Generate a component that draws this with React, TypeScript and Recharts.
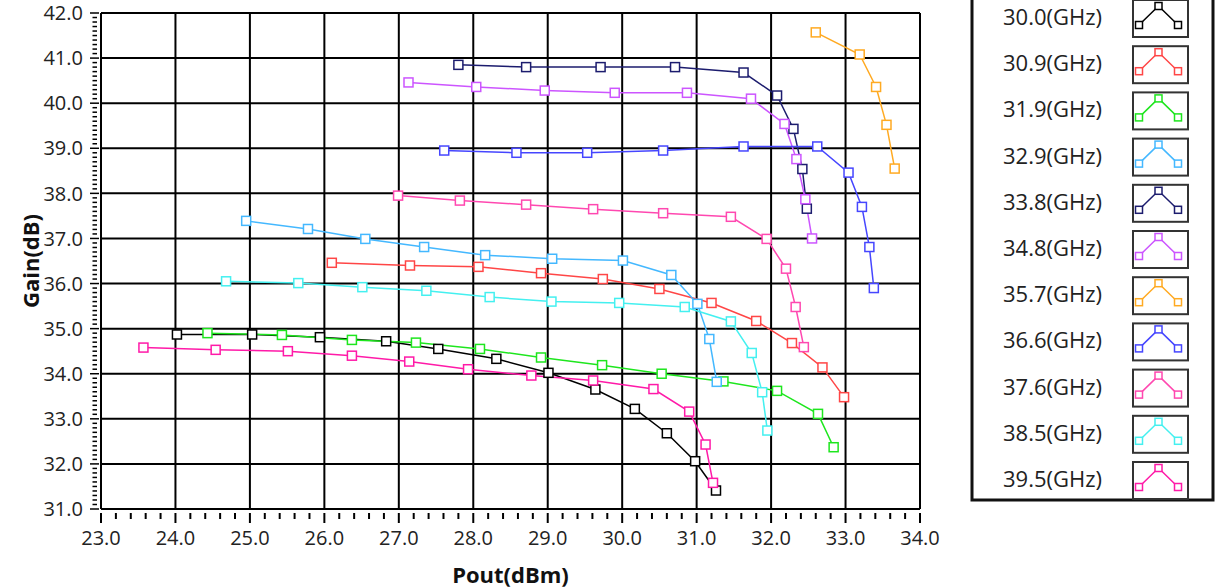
import {Line, LineChart, ReferenceLine, XAxis, YAxis} from 'recharts';

// Pout (dBm) / Gain (dB), one pair per frequency
const pout300 = [24.02, 25.03, 25.94, 26.83, 27.53, 28.31, 29.01, 29.64, 30.17, 30.6, 30.98, 31.26];
const gain300 = [34.87, 34.87, 34.81, 34.72, 34.55, 34.33, 34.02, 33.65, 33.22, 32.68, 32.06, 31.41];

const pout309 = [26.1, 27.15, 28.07, 28.91, 29.74, 30.5, 31.2, 31.8, 32.28, 32.69, 32.98];
const gain309 = [36.46, 36.4, 36.37, 36.23, 36.1, 35.88, 35.57, 35.17, 34.68, 34.14, 33.48];

const pout319 = [24.43, 25.43, 26.37, 27.23, 28.09, 28.91, 29.73, 30.53, 31.36, 32.08, 32.63, 32.84];
const gain319 = [34.9, 34.86, 34.75, 34.69, 34.55, 34.36, 34.19, 34.0, 33.83, 33.62, 33.11, 32.37];

const pout329 = [24.95, 25.78, 26.55, 27.34, 28.16, 29.06, 30.01, 30.66, 31.01, 31.17, 31.27];
const gain329 = [37.39, 37.21, 36.99, 36.81, 36.63, 36.55, 36.51, 36.19, 35.55, 34.77, 33.82];

const pout338 = [27.8, 28.71, 29.71, 30.71, 31.63, 32.08, 32.3, 32.42, 32.48];
const gain338 = [40.85, 40.8, 40.8, 40.8, 40.68, 40.17, 39.43, 38.54, 37.66];

const pout348 = [27.13, 28.04, 28.96, 29.9, 30.87, 31.73, 32.18, 32.34, 32.46, 32.55];
const gain348 = [40.46, 40.36, 40.28, 40.23, 40.23, 40.1, 39.54, 38.76, 37.87, 37.0];

const pout357 = [32.6, 33.19, 33.41, 33.55, 33.66];
const gain357 = [41.57, 41.08, 40.36, 39.52, 38.55];

const pout366 = [27.61, 28.58, 29.53, 30.55, 31.63, 32.62, 33.04, 33.22, 33.32, 33.38];
const gain366 = [38.95, 38.9, 38.9, 38.95, 39.04, 39.04, 38.46, 37.7, 36.81, 35.9];

const pout376 = [26.99, 27.82, 28.71, 29.61, 30.55, 31.46, 31.94, 32.2, 32.33, 32.44];
const gain376 = [37.95, 37.84, 37.75, 37.65, 37.56, 37.48, 36.99, 36.33, 35.48, 34.59];

const pout385 = [24.68, 25.65, 26.51, 27.37, 28.22, 29.05, 29.96, 30.84, 31.46, 31.74, 31.88, 31.95];
const gain385 = [36.05, 36.01, 35.92, 35.84, 35.7, 35.6, 35.57, 35.48, 35.16, 34.46, 33.59, 32.74];

const pout395 = [23.57, 24.54, 25.51, 26.37, 27.14, 27.93, 28.78, 29.61, 30.42, 30.9, 31.12, 31.22];
const gain395 = [34.58, 34.53, 34.5, 34.4, 34.27, 34.1, 33.96, 33.85, 33.66, 33.16, 32.43, 31.58];

const freqLabels = ['30.0(GHz)', '30.9(GHz)', '31.9(GHz)', '32.9(GHz)', '33.8(GHz)', '34.8(GHz)',
  '35.7(GHz)', '36.6(GHz)', '37.6(GHz)', '38.5(GHz)', '39.5(GHz)'];

const xMajor = [23, 24, 25, 26, 27, 28, 29, 30, 31, 32, 33, 34];
const yMajor = [31, 32, 33, 34, 35, 36, 37, 38, 39, 40, 41, 42];

const COLORS = ['#000000', '#ff4646', '#1ee61e', '#44b8ff', '#1c1c6e', '#cc55ff',
  '#ffaa22', '#4646ff', '#ff48b0', '#44f0f0', '#ff1aa8'];

const pairs = (xs: number[], ys: number[]) => xs.map((x, i) => ({x, y: ys[i]}));

const series = [
  pairs(pout300, gain300), pairs(pout309, gain309), pairs(pout319, gain319),
  pairs(pout329, gain329), pairs(pout338, gain338), pairs(pout348, gain348),
  pairs(pout357, gain357), pairs(pout366, gain366), pairs(pout376, gain376),
  pairs(pout385, gain385), pairs(pout395, gain395),
];

// minor ticks: 0.2 dBm on x, 0.1 dB on y
const xTicks: number[] = [];
for (let i = 0; i <= (xMajor[xMajor.length - 1] - xMajor[0]) * 5; i++) xTicks.push(Math.round((xMajor[0] + i * 0.2) * 10) / 10);
const yTicks: number[] = [];
for (let i = 0; i <= (yMajor[yMajor.length - 1] - yMajor[0]) * 10; i++) yTicks.push(Math.round((yMajor[0] + i * 0.1) * 10) / 10);

const FONT = "'Segoe UI', 'Open Sans', sans-serif";
const isMajor = (v: number) => Math.abs(v - Math.round(v)) < 1e-6;

const XTick = (props: any) => {
  const {x, y, payload} = props;
  const major = isMajor(payload.value);
  return (
    <g>
      <line x1={x} x2={x} y1={y + 4} y2={y + (major ? 14 : 10)} stroke="#000" strokeWidth={2} />
      {major && (
        <text x={x} y={y + 36} textAnchor="middle" fontSize={20} fill="#222" fontFamily={FONT}>
          {payload.value.toFixed(1)}
        </text>
      )}
    </g>
  );
};

const YTick = (props: any) => {
  const {x, y, payload} = props;
  const major = isMajor(payload.value);
  return (
    <g>
      <line x1={x - (major ? 11 : 8.5)} x2={x - (major ? 2 : 4)} y1={y} y2={y} stroke="#000" strokeWidth={1.5} />
      {major && (
        <text x={x - 18} y={y} dy="0.36em" textAnchor="end" fontSize={20} fill="#222" fontFamily={FONT}>
          {payload.value.toFixed(1)}
        </text>
      )}
    </g>
  );
};

const YLabel = (props: any) => {
  const {x, y, height} = props.viewBox;
  const cx = x + 30;
  const cy = y + height / 2;
  return (
    <text x={cx} y={cy} transform={`rotate(-90 ${cx} ${cy})`} textAnchor="middle" dominantBaseline="central"
      fontSize={22} fontWeight="bold" fill="#111" fontFamily={FONT}>
      Gain(dB)
    </text>
  );
};

const XLabel = (props: any) => {
  const {x, y, width} = props.viewBox;
  return (
    <text x={x + width / 2} y={y + 74} textAnchor="middle" fontSize={22} fontWeight="bold" fill="#111" fontFamily={FONT}>
      Pout(dBm)
    </text>
  );
};

const squareDot = (color: string, size: number) => (props: any) => {
  const {cx, cy, index} = props;
  if (cx == null || cy == null) return <g key={index} />;
  return (
    <rect key={index} x={cx - size / 2} y={cy - size / 2} width={size} height={size}
      fill="#fff" stroke={color} strokeWidth={1.5} />
  );
};

function SweepLegend() {
  const rowH = 46.2;
  return (
    <svg width={1215} height={588} style={{position: 'absolute', left: 0, top: 0, pointerEvents: 'none'}}>
      <rect x={972} y={-4} width={241} height={504} fill="#fff" stroke="#111" strokeWidth={3} />
      {freqLabels.map((label, i) => {
        const top = i * rowH;
        const bx = 1133;
        return (
          <g key={label}>
            <text x={1003} y={top + 17} dy="0.36em" fontSize={22} fill="#222" fontFamily={FONT}>{label}</text>
            <rect x={bx} y={top} width={55} height={37} fill="#fff" stroke="#333" strokeWidth={2} />
            <polyline points={`${bx + 6},${top + 25} ${bx + 25.5},${top + 6} ${bx + 45},${top + 25}`}
              fill="none" stroke={COLORS[i]} strokeWidth={1.5} />
            {[[6, 25], [25.5, 6], [45, 25]].map(([dx, dy], k) => (
              <rect key={k} x={bx + dx - 3.5} y={top + dy - 3.5} width={7} height={7}
                fill="#fff" stroke={COLORS[i]} strokeWidth={1.5} />
            ))}
          </g>
        );
      })}
    </svg>
  );
}

export default function App() {
  return (
    <div style={{position: 'absolute', left: 0, top: 0, width: 1215, height: 588, background: '#fff'}}>
      <LineChart width={1215} height={588} margin={{top: 13, right: 295, bottom: 0, left: 0}}>
        <XAxis type="number" dataKey="x" domain={[23, 34]} ticks={xTicks} interval={0} allowDataOverflow
          axisLine={false} tickLine={false} tickSize={0} tickMargin={0} height={79} tick={<XTick />}
          label={<XLabel />} />
        <YAxis type="number" dataKey="y" domain={[31, 42]} ticks={yTicks} interval={0} allowDataOverflow
          axisLine={false} tickLine={false} tickSize={0} tickMargin={0} width={101} tick={<YTick />}
          label={<YLabel />} />
        {xMajor.map((v) => (
          <ReferenceLine key={`vx-${v}`} x={v} stroke="#000" strokeWidth={2} />
        ))}
        {yMajor.map((v) => (
          <ReferenceLine key={`hy-${v}`} y={v} stroke="#000" strokeWidth={2} />
        ))}
        {series.map((data, i) => (
          <Line key={freqLabels[i]} data={data} dataKey="y" type="linear" stroke={COLORS[i]}
            strokeWidth={1.5} dot={squareDot(COLORS[i], 9)} activeDot={false}
            isAnimationActive={false} name={freqLabels[i]} />
        ))}
      </LineChart>
      <SweepLegend />
    </div>
  );
}
